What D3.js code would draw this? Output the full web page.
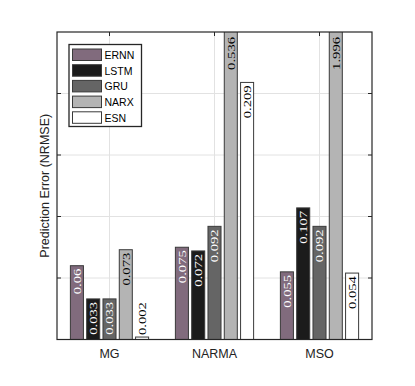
<!DOCTYPE html>
<html><head><meta charset="utf-8">
<script src="https://cdn.jsdelivr.net/npm/d3@7"></script>
<style>body{margin:0;background:#fff}svg{display:block}</style>
</head><body>
<script>
const categories = ["MG", "NARMA", "MSO"];
const seriesNames = ["ERNN", "LSTM", "GRU", "NARX", "ESN"];
const ERNN = [0.06, 0.075, 0.055];
const LSTM = [0.033, 0.072, 0.107];
const GRU  = [0.033, 0.092, 0.092];
const NARX = [0.073, 0.536, 1.996];
const ESN  = [0.002, 0.209, 0.054];
const yTicks = [0, 0.05, 0.1, 0.15, 0.2, 0.25];
const colors = ["#816b7d", "#1b1b1b", "#656565", "#b4b4b4", "#ffffff"];
const textColors = ["#fff", "#fff", "#fff", "#000", "#000"];
const series = [ERNN, LSTM, GRU, NARX, ESN];

const W = 415, H = 386;
const m = {left: 57, right: 43, top: 32, bottom: 46.5};
const pw = W - m.left - m.right, ph = H - m.top - m.bottom;

const svg = d3.select("body").append("svg").attr("width", W).attr("height", H);
const g = svg.append("g").attr("transform", `translate(${m.left},${m.top})`);

const x = d3.scaleBand().domain(categories).range([0, pw]).padding(0);
const y = d3.scaleLinear().domain([0, 0.25]).range([ph, 0]);
const gw = x.bandwidth() * 0.776;
const xi = d3.scaleBand().domain(seriesNames).range([-gw/2, gw/2]).paddingInner(0.2).paddingOuter(0.1);

svg.append("defs").append("clipPath").attr("id", "clip")
  .append("rect").attr("width", pw).attr("height", ph);

// grid
g.append("g").selectAll("line").data(yTicks.slice(1, -1)).join("line")
  .attr("x1", 0).attr("x2", pw).attr("y1", d => y(d)).attr("y2", d => y(d))
  .attr("stroke", "#e2e2e2").attr("stroke-width", 1);
g.append("g").selectAll("line").data(categories).join("line")
  .attr("y1", 0).attr("y2", ph).attr("x1", d => x(d) + x.bandwidth()/2).attr("x2", d => x(d) + x.bandwidth()/2)
  .attr("stroke", "#e2e2e2").attr("stroke-width", 1);

// bars
const data = [];
categories.forEach((c, ci) => seriesNames.forEach((s, si) => data.push({c, s, si, v: series[si][ci]})));
const bx = d => x(d.c) + x.bandwidth()/2 + xi(d.s);
g.append("g").attr("clip-path", "url(#clip)").selectAll("rect").data(data).join("rect")
  .attr("x", bx).attr("width", xi.bandwidth())
  .attr("y", d => y(d.v)).attr("height", d => ph - y(d.v) + 2)
  .attr("fill", d => colors[d.si]).attr("stroke", "#3a3a3a").attr("stroke-width", 1);

// value labels
const fs = 11, sx = 1.33;
g.append("g").selectAll("text").data(data).join("text")
  .attr("font-family", "Liberation Serif, Times New Roman, serif")
  .attr("font-size", fs)
  .attr("dy", "0.35em")
  .each(function(d) {
    const cx = bx(d) + xi.bandwidth()/2;
    const top = Math.max(y(d.v), 0);
    const h = ph - top;
    const el = d3.select(this).text(String(d.v));
    const len = this.getComputedTextLength() * sx;
    if (h > len + 6) {
      el.attr("text-anchor", "end").attr("fill", textColors[d.si])
        .attr("transform", `translate(${cx},${top + (y(d.v) < 0 ? 5 : 3)}) rotate(-90) scale(${sx},1)`);
    } else {
      el.attr("text-anchor", "start").attr("fill", "#000")
        .attr("transform", `translate(${cx},${top - 2}) rotate(-90) scale(${sx},1)`);
    }
  });

// frame
g.append("rect").attr("width", pw).attr("height", ph).attr("fill", "none")
  .attr("stroke", "#262626").attr("stroke-width", 1.2);
// ticks
const tl = 4;
g.append("g").selectAll("line").data(yTicks.slice(1, -1)).join("line")
  .attr("x1", 0).attr("x2", tl).attr("y1", d => y(d)).attr("y2", d => y(d)).attr("stroke", "#262626");
g.append("g").selectAll("line").data(yTicks.slice(1, -1)).join("line")
  .attr("x1", pw - tl).attr("x2", pw).attr("y1", d => y(d)).attr("y2", d => y(d)).attr("stroke", "#262626");
g.append("g").selectAll("line").data(categories).join("line")
  .attr("y1", 0).attr("y2", tl).attr("x1", d => x(d) + x.bandwidth()/2).attr("x2", d => x(d) + x.bandwidth()/2).attr("stroke", "#262626");

// x labels
g.append("g").selectAll("text").data(categories).join("text")
  .attr("x", d => x(d) + x.bandwidth()/2).attr("y", ph + 18.5)
  .attr("text-anchor", "middle").attr("font-family", "Liberation Sans, Arial, sans-serif")
  .attr("font-size", 12.5).attr("fill", "#222").text(d => d);

// y label
svg.append("text").attr("transform", `translate(49,${m.top + ph/2}) rotate(-90)`)
  .attr("text-anchor", "middle").attr("font-family", "Liberation Sans, Arial, sans-serif")
  .attr("font-size", 12.5).attr("fill", "#222").text("Prediction Error (NRMSE)");

// legend
const lg = svg.append("g").attr("transform", "translate(69,44.5)");
lg.append("rect").attr("width", 72.5).attr("height", 82).attr("fill", "#fff")
  .attr("stroke", "#262626").attr("stroke-width", 1.3);
seriesNames.forEach((s, i) => {
  lg.append("rect").attr("x", 3.5).attr("y", 4.5 + i * 15.7).attr("width", 29).attr("height", 11.5)
    .attr("fill", colors[i]).attr("stroke", "#3a3a3a").attr("stroke-width", 1);
  lg.append("text").attr("x", 35.5).attr("y", 14.5 + i * 15.7)
    .attr("font-family", "Liberation Sans, Arial, sans-serif").attr("font-size", 10.5)
    .attr("fill", "#000").text(s);
});
</script>
</body></html>
